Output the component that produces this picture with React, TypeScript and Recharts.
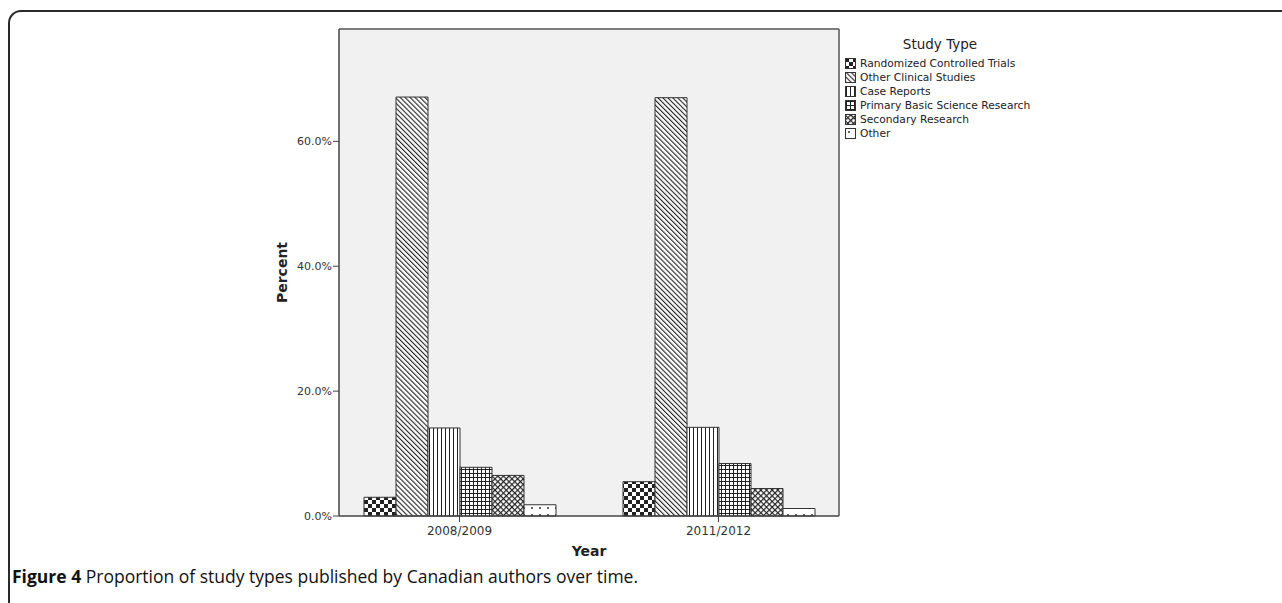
import { BarChart, Bar, XAxis, YAxis, CartesianGrid, Label } from "recharts";

const CATEGORIES = ["2008/2009", "2011/2012"];
const SERIES_NAMES = [
  "Randomized Controlled Trials",
  "Other Clinical Studies",
  "Case Reports",
  "Primary Basic Science Research",
  "Secondary Research",
  "Other",
];
const RCT = [3.0, 5.5];
const OTHER_CLINICAL = [67.1, 67.0];
const CASE_REPORTS = [14.1, 14.2];
const BASIC_SCIENCE = [7.8, 8.4];
const SECONDARY = [6.5, 4.4];
const OTHER = [1.8, 1.2];
const Y_TICKS = [0, 20, 40, 60];

const KEYS = ["rct", "clinical", "cases", "basic", "secondary", "other"];
const VALUES = [RCT, OTHER_CLINICAL, CASE_REPORTS, BASIC_SCIENCE, SECONDARY, OTHER];

const data = CATEGORIES.map((year, i) => {
  const row: Record<string, string | number> = { year };
  KEYS.forEach((k, j) => {
    row[k] = VALUES[j][i];
  });
  return row;
});

const FONT = "'DejaVu Sans', sans-serif";
const INK = "#222";

const Patterns = () => (
  <defs>
    <pattern id="pat-rct" width="8" height="8" patternUnits="userSpaceOnUse">
      <rect width="8" height="8" fill="#fff" />
      <rect x="0" y="0" width="4" height="4" fill={INK} />
      <rect x="4" y="4" width="4" height="4" fill={INK} />
    </pattern>
    <pattern id="pat-clinical" width="3.5" height="3.5" patternUnits="userSpaceOnUse" patternTransform="rotate(-45)">
      <rect width="3.5" height="3.5" fill="#fff" />
      <rect x="0" y="0" width="1.1" height="3.5" fill={INK} />
    </pattern>
    <pattern id="pat-cases" width="4" height="4" patternUnits="userSpaceOnUse">
      <rect width="4" height="4" fill="#fff" />
      <rect x="1" y="0" width="1" height="4" fill={INK} />
    </pattern>
    <pattern id="pat-basic" width="4" height="4" patternUnits="userSpaceOnUse">
      <rect width="4" height="4" fill="#fff" />
      <rect x="1" y="0" width="1" height="4" fill={INK} />
      <rect x="0" y="1" width="4" height="1" fill={INK} />
    </pattern>
    <pattern id="pat-secondary" width="4" height="4" patternUnits="userSpaceOnUse" patternTransform="rotate(45)">
      <rect width="4" height="4" fill="#fff" />
      <rect x="0" y="0" width="1.2" height="4" fill={INK} />
      <rect x="0" y="0" width="4" height="1.2" fill={INK} />
    </pattern>
    <pattern id="pat-other" width="8" height="7" patternUnits="userSpaceOnUse">
      <rect width="8" height="7" fill="#fff" />
      <rect x="3" y="3" width="2" height="2" fill="#666" />
    </pattern>
  </defs>
);

const YLabel = (props: any) => {
  const { viewBox } = props;
  const x = viewBox.x + 3;
  const y = viewBox.y + viewBox.height / 2;
  return (
    <text
      x={x}
      y={y}
      transform={`rotate(-90 ${x} ${y})`}
      textAnchor="middle"
      dominantBaseline="central"
      fontFamily={FONT}
      fontWeight="bold"
      fontSize={14}
      fill={INK}
    >
      Percent
    </text>
  );
};

const XLabel = (props: any) => {
  const { viewBox } = props;
  return (
    <text
      x={viewBox.x + viewBox.width / 2}
      y={viewBox.y + 35}
      textAnchor="middle"
      dominantBaseline="central"
      fontFamily={FONT}
      fontWeight="bold"
      fontSize={14}
      fill={INK}
    >
      Year
    </text>
  );
};

const StudyLegend = () => (
  <div style={{ position: "absolute", left: 845, top: 35, fontFamily: FONT, color: INK }}>
    <div style={{ fontSize: 13.5, width: 190, textAlign: "center", lineHeight: "18px", marginBottom: 3 }}>
      Study Type
    </div>
    {SERIES_NAMES.map((name, i) => (
      <div key={name} style={{ display: "flex", alignItems: "center", height: 14, fontSize: 10.7 }}>
        <svg width="12" height="11" style={{ marginRight: 3 }}>
          <rect x="0.5" y="0.5" width="10" height="10" fill={`url(#pat-${KEYS[i]})`} stroke="#333" />
        </svg>
        {name}
      </div>
    ))}
  </div>
);

export default function App() {
  return (
    <div style={{ position: "fixed", left: 0, top: 0, width: 1282, height: 603, overflow: "hidden", background: "#fff" }}>
      <div
        style={{
          position: "absolute",
          left: 8,
          top: 10,
          width: 1400,
          height: 800,
          borderTop: "2px solid #2a2a2a",
          borderLeft: "2px solid #2a2a2a",
          borderTopLeftRadius: 13,
        }}
      />
      <div style={{ position: "absolute", left: 0, top: 0 }}>
        <BarChart
          width={1282}
          height={603}
          data={data}
          margin={{ top: 29, left: 279, right: 443, bottom: 57 }}
          barSize={32}
          barGap={0}
        >
          <Patterns />
          <CartesianGrid
            fill="#f1f1f1"
            stroke="#555"
            strokeWidth={1.5}
            horizontalCoordinatesGenerator={({ offset }: any) => [offset.top]}
            verticalCoordinatesGenerator={({ offset }: any) => [offset.left + offset.width]}
          />
          <XAxis
            dataKey="year"
            height={30}
            padding={{ left: -9, right: -9 }}
            tickSize={6}
            tickMargin={4}
            axisLine={{ stroke: "#444", strokeWidth: 1.5 }}
            tickLine={{ stroke: "#444" }}
            tick={{ fontSize: 12, fill: "#333", fontFamily: FONT }}
          >
            <Label content={XLabel} />
          </XAxis>
          <YAxis
            width={60}
            domain={[0, 78]}
            ticks={Y_TICKS}
            tickFormatter={(v: number) => `${v.toFixed(1)}%`}
            tickSize={6}
            tickMargin={1}
            axisLine={{ stroke: "#444", strokeWidth: 1.5 }}
            tickLine={{ stroke: "#444" }}
            tick={{ fontSize: 11, fill: "#333", fontFamily: FONT }}
          >
            <Label content={YLabel} />
          </YAxis>
          {KEYS.map((k, i) => (
            <Bar
              key={k}
              dataKey={k}
              name={SERIES_NAMES[i]}
              fill={`url(#pat-${k})`}
              stroke="#333"
              strokeWidth={1}
              isAnimationActive={false}
            />
          ))}
        </BarChart>
      </div>
      <StudyLegend />
      <div style={{ position: "absolute", left: 12, top: 564, fontFamily: "'Open Sans', sans-serif", fontSize: 17.5, lineHeight: "24px", color: "#111" }}>
        <b>Figure 4</b> Proportion of study types published by Canadian authors over time.
      </div>
    </div>
  );
}
